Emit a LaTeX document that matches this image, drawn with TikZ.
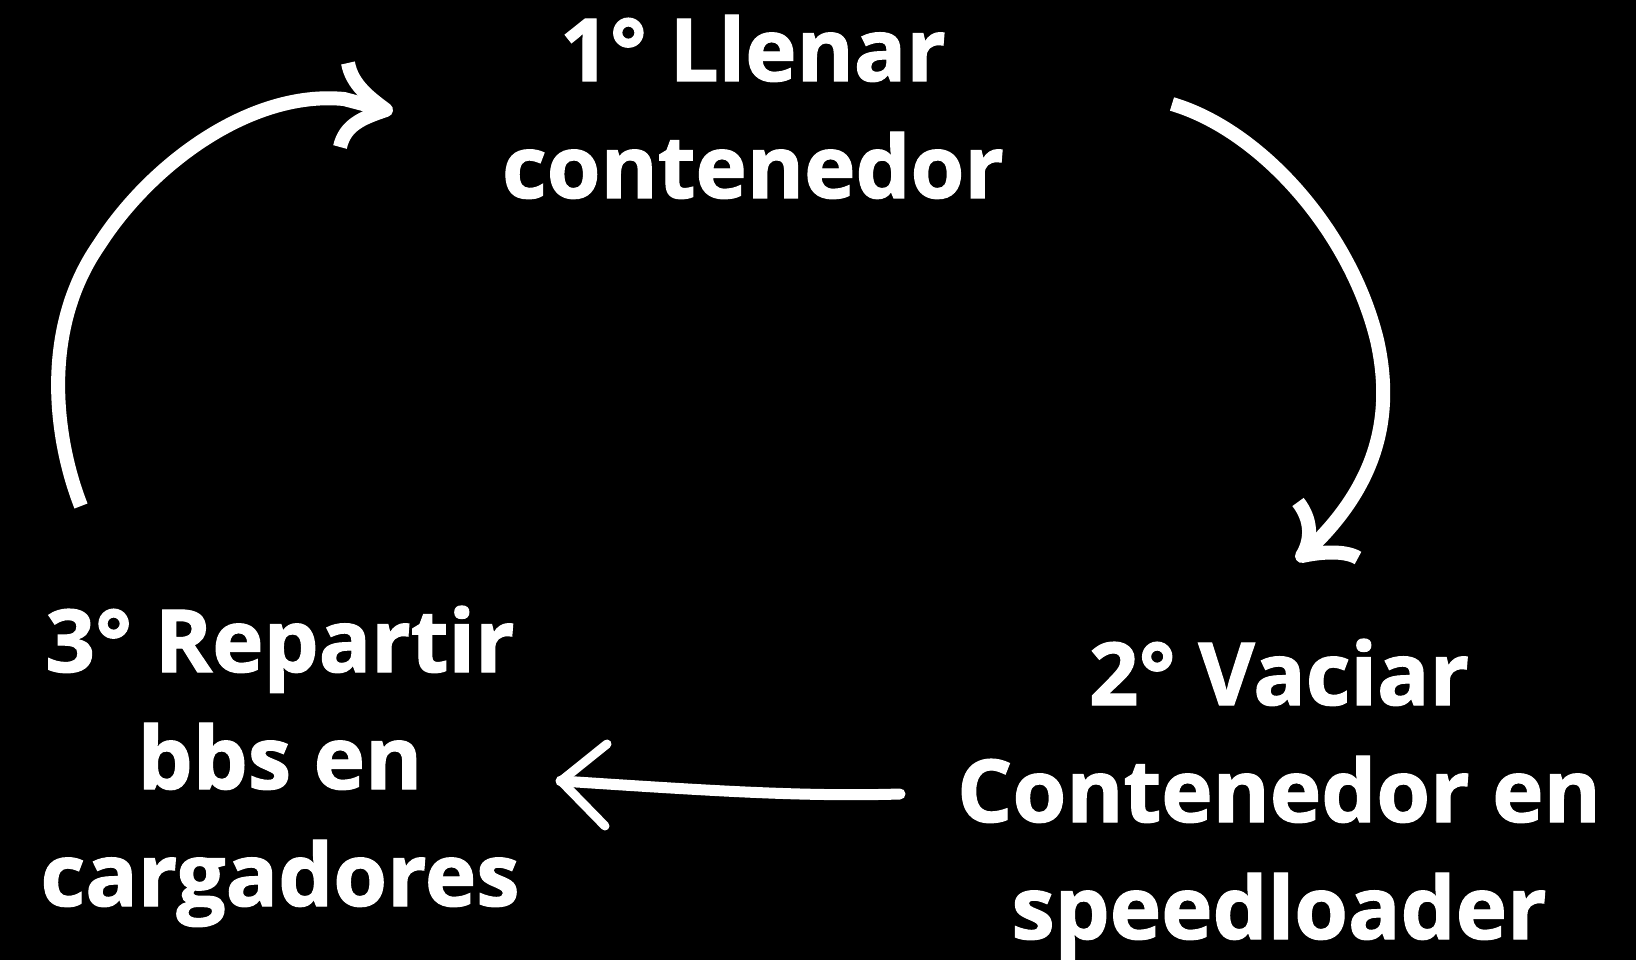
\documentclass[tikz,border=0pt]{standalone}
\usepackage{fontspec}
\setmainfont{Open Sans}[BoldFeatures={FakeBold=1.3}]
\begin{document}
\begin{tikzpicture}[x=1pt,y=-1pt,
  lbl/.style={text=white,font=\bfseries\fontsize{87}{117}\selectfont,align=center,anchor=base,inner sep=0pt},
  stroke/.style={draw=white,line width=14pt,line cap=round,line join=round}]
\fill[black] (0,0) rectangle (1636,960);
\useasboundingbox (0,0) rectangle (1636,960);
\node[lbl] (s1) at (753,198) {1° Llenar\\contenedor};
\node[lbl] (s2) at (1279,939) {2° Vaciar\\Contenedor en\\speedloader};
\node[lbl] (s3) at (280,906) {3° Repartir\\bbs en\\cargadores};
% endpoints
\coordinate (a1s) at (81,506);
\coordinate (a1t) at (386,110);
\coordinate (a2s) at (1172,104);
\coordinate (a2t) at (1302,556);
\coordinate (a3s) at (900,794);
\coordinate (a3t) at (561,781);
% arc 3 -> 1
\draw[stroke,line cap=butt] (a1s) .. controls (55,440) and (40,330) .. (99,245)
  .. controls (150,165) and (250,90) .. (344,99) -- (a1t);
\draw[stroke,line cap=butt] (348,63) .. controls (352,85) and (370,98) .. (a1t)
  .. controls (362,118) and (345,125) .. (340,147);
% arc 1 -> 2
\draw[stroke,line cap=butt] (a2s) .. controls (1260,130) and (1350,230) .. (1377,340)
  .. controls (1395,420) and (1375,490) .. (a2t);
\draw[stroke,line cap=butt] (1298,502) .. controls (1312,520) and (1312,540) .. (a2t)
  .. controls (1320,552) and (1345,550) .. (1358,558);
% arrow 2 -> 3
\draw[stroke,line width=11pt] (a3s) .. controls (800,797) and (700,790) .. (a3t);
\draw[stroke,line width=9pt] (607,744) -- (a3t) -- (605,826);
\end{tikzpicture}
\end{document}
